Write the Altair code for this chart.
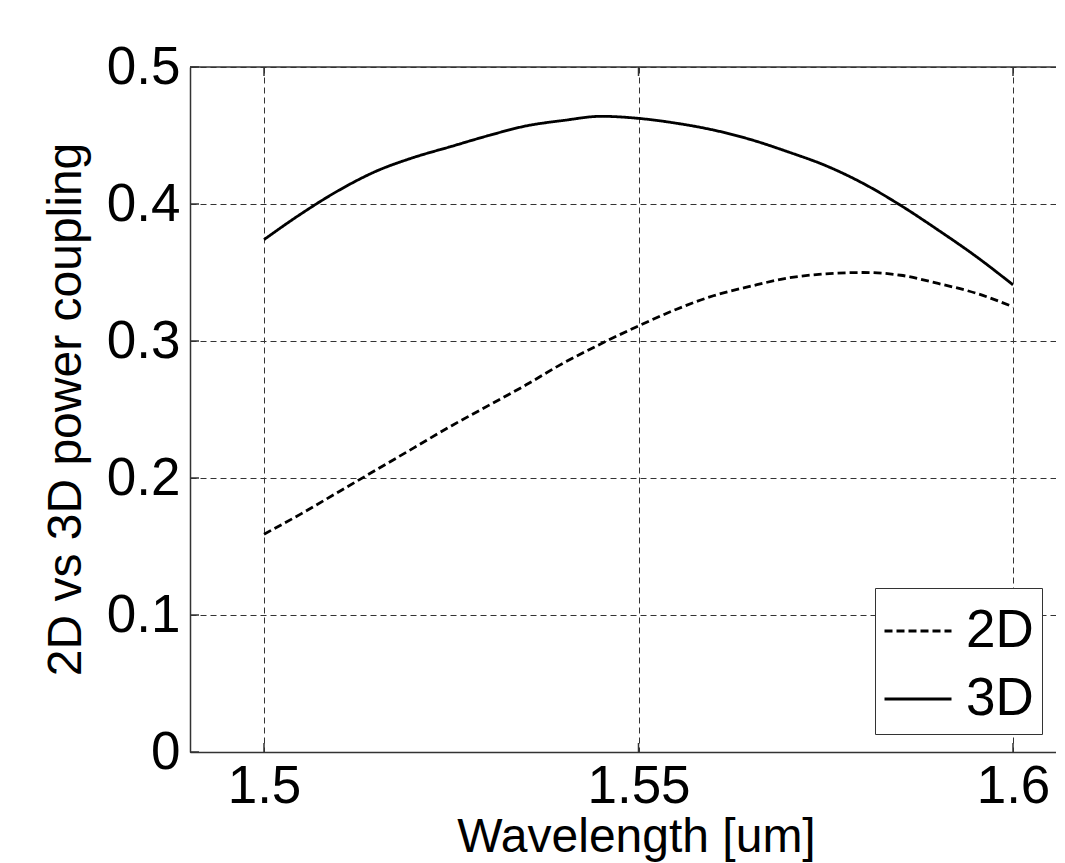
import altair as alt
import pandas as pd

# ---- data ----
wavelength = [1.500, 1.505, 1.510, 1.515, 1.520, 1.525, 1.530, 1.535, 1.540, 1.545,
              1.550, 1.555, 1.560, 1.565, 1.570, 1.575, 1.580, 1.585, 1.590, 1.595, 1.600]
coupling_2d = [0.159, 0.174, 0.190, 0.206, 0.222, 0.238, 0.253, 0.268, 0.284, 0.298,
               0.311, 0.323, 0.333, 0.340, 0.346, 0.349, 0.350, 0.348, 0.342, 0.335, 0.325]
coupling_3d = [0.374, 0.393, 0.410, 0.424, 0.434, 0.442, 0.450, 0.457, 0.461, 0.464,
               0.4625, 0.459, 0.454, 0.447, 0.438, 0.428, 0.415, 0.399, 0.381, 0.362, 0.341]
series_names = ["2D", "3D"]
x_ticks = [1.5, 1.55, 1.6]
y_ticks = [0, 0.1, 0.2, 0.3, 0.4, 0.5]
x_domain = [1.49012, 1.60574]
y_domain = [0, 0.5]
top_edge = [0.5]

rows = []
for name, vals in zip(series_names, [coupling_2d, coupling_3d]):
    for w, v in zip(wavelength, vals):
        rows.append({"wavelength": w, "coupling": v, "series": name})
df = pd.DataFrame(rows)

FONT = "Liberation Sans"
AX = "#333333"
X_TITLE = "Wavelength [um]"
Y_TITLE = "2D vs 3D power coupling"

x_scale = alt.Scale(domain=x_domain, nice=False, zero=False)
y_scale = alt.Scale(domain=y_domain, nice=False, zero=False)

x_axis = alt.Axis(values=x_ticks, format="~g", title=X_TITLE,
                  ticks=False, labelPadding=8, labelFlush=False,
                  labelOverlap=False,
                  titleX=446, titleY=99, titleBaseline="alphabetic",
                  titleAlign="center")
y_axis = alt.Axis(values=y_ticks, format="~g", title=Y_TITLE,
                  ticks=False, labelPadding=10, labelFlush=False,
                  labelOverlap=False,
                  titleX=-110, titleY=342, titleAngle=270,
                  titleBaseline="alphabetic", titleAlign="center")

lines = alt.Chart(df).mark_line(color="black", strokeWidth=2.8, clip=True,
                                interpolate="monotone").encode(
    x=alt.X("wavelength:Q", scale=x_scale, axis=x_axis, title=X_TITLE),
    y=alt.Y("coupling:Q", scale=y_scale, axis=y_axis, title=Y_TITLE),
    strokeDash=alt.StrokeDash(
        "series:N",
        scale=alt.Scale(domain=series_names, range=[[8, 4], [1, 0]]),
        legend=alt.Legend(title=None, orient="none", legendX=685, legendY=521,
                          symbolType="stroke", symbolSize=4489,
                          symbolStrokeWidth=2.8, symbolStrokeColor="black",
                          labelFontSize=53, labelFont=FONT, labelColor="black",
                          labelOffset=13, rowPadding=6, padding=8,
                          strokeColor=AX, fillColor="white"),
    ),
)

xt = pd.DataFrame({"t": x_ticks})
yt = pd.DataFrame({"t": y_ticks})

bottom_ticks = alt.Chart(xt).mark_rule(color=AX, strokeWidth=1.5).encode(
    x=alt.X("t:Q", scale=x_scale, axis=x_axis, title=X_TITLE),
    y=alt.value(685), y2=alt.value(676))
top_ticks = alt.Chart(xt).mark_rule(color=AX, strokeWidth=1.5).encode(
    x=alt.X("t:Q", scale=x_scale, axis=x_axis, title=X_TITLE),
    y=alt.value(0), y2=alt.value(9))
left_ticks = alt.Chart(yt).mark_rule(color=AX, strokeWidth=1.5).encode(
    y=alt.Y("t:Q", scale=y_scale, axis=y_axis, title=Y_TITLE),
    x=alt.value(0), x2=alt.value(9))
top_border = alt.Chart(pd.DataFrame({"b": top_edge})).mark_rule(color=AX, strokeWidth=1.5).encode(
    y=alt.Y("b:Q", scale=y_scale, axis=y_axis, title=Y_TITLE))

chart = alt.layer(lines, bottom_ticks, top_ticks, left_ticks, top_border).properties(
    width=866, height=685,
    padding={"left": 182, "top": 59, "right": 0, "bottom": 111},
    autosize=alt.AutoSizeParams(type="none"),
    background="white",
).configure_view(stroke=None).configure_axis(
    labelFont=FONT, labelFontSize=53, labelColor="black",
    titleFont=FONT, titleFontSize=48, titleFontWeight="normal", titleColor="black",
    grid=True, gridDash=[6, 4], gridColor=AX, gridOpacity=1, gridWidth=1,
    domainColor=AX, domainWidth=1.5,
)

chart.save("out.html", embed_options={"renderer": "svg", "actions": False})
